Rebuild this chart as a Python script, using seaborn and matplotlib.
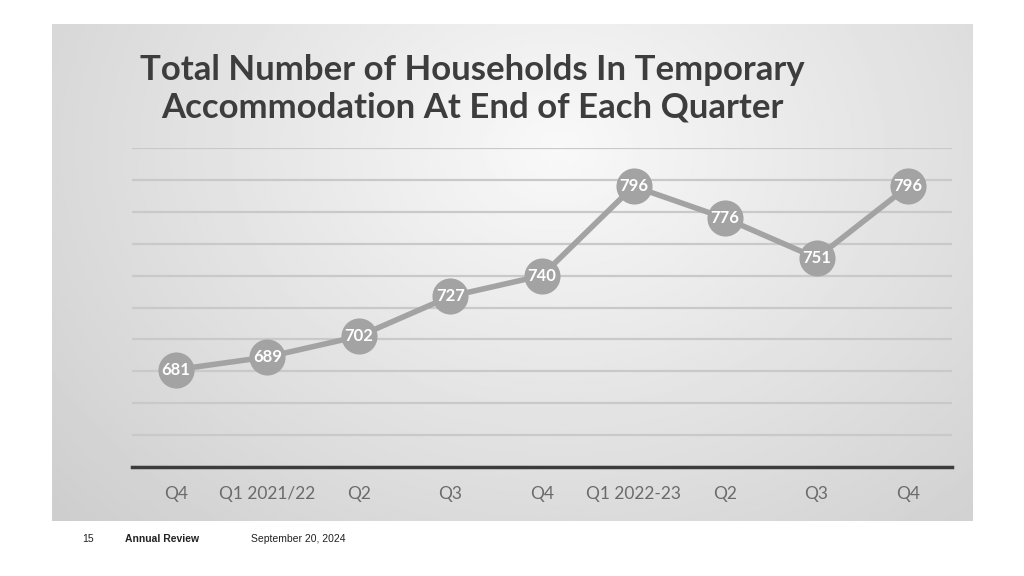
import numpy as np
import pandas as pd
import matplotlib
matplotlib.use("Agg")
import matplotlib.pyplot as plt
import seaborn as sns

quarters = ["Q4", "Q1 2021/22", "Q2", "Q3", "Q4", "Q1 2022-23", "Q2", "Q3", "Q4"]
households = [681, 689, 702, 727, 740, 796, 776, 751, 796]

sns.set_theme(style="white")
plt.rcParams["font.family"] = ["Lato", "DejaVu Sans"]

fig = plt.figure(figsize=(10.24, 5.76), dpi=100)
fig.patch.set_facecolor("white")

# grey slide panel with a soft radial gradient
bg = fig.add_axes([52 / 1024, 1 - 521 / 576, 921 / 1024, 497 / 576])
yy, xx = np.mgrid[0:1:200j, 0:1:300j]
r = np.sqrt(((xx - 0.55) / 0.75) ** 2 + ((yy - 0.25) / 1.1) ** 2)
shade = 0.975 - 0.17 * np.clip(r, 0, 1.1)
bg.imshow(shade, cmap="gray", vmin=0, vmax=1, aspect="auto", extent=[0, 1, 1, 0])
bg.set_axis_off()

ax = fig.add_axes([132 / 1024, 1 - 467 / 576, 820 / 1024, (467 - 148) / 576])
ax.patch.set_alpha(0)

df = pd.DataFrame({"pos": range(len(quarters)), "value": households})
sns.lineplot(data=df, x="pos", y="value", ax=ax, color="#a3a3a3", linewidth=4,
             marker="o", markersize=26, markeredgewidth=0, zorder=3)
for i, v in enumerate(households):
    ax.text(i, v, str(v), ha="center", va="center", color="white",
            fontsize=12, fontweight="bold", zorder=4)

ax.set_ylim(620, 820)
ax.set_xlim(-0.48, len(quarters) - 0.52)
ax.set_yticks(range(620, 821, 20))
ax.yaxis.grid(True, color="#c9c9c9", linewidth=1.6)
ax.set_axisbelow(True)
ax.set_yticklabels([])
ax.tick_params(axis="y", length=0)
ax.set_xticks(range(len(quarters)))
ax.set_xticklabels(quarters, color="#6b6b6b", fontsize=12.5)
ax.tick_params(axis="x", length=0, pad=14)
ax.set_xlabel("")
ax.set_ylabel("")
for s in ["top", "left", "right"]:
    ax.spines[s].set_visible(False)
ax.spines["bottom"].set_color("#3c3c3c")
ax.spines["bottom"].set_linewidth(2.5)

fig.text(472 / 1024, 1 - 89 / 576, "Total Number of Households In Temporary\nAccommodation At End of Each Quarter",
         ha="center", va="center", fontsize=25, fontweight="bold", color="#3d3d3d",
         linespacing=1.22)

foot = dict(fontsize=7.5, color="#222222", va="center", family=["Liberation Sans", "DejaVu Sans"])
fig.text(82 / 1024, 1 - 539 / 576, "15", **foot)
fig.text(125 / 1024, 1 - 539 / 576, "Annual Review", fontweight="bold", **foot)
fig.text(251 / 1024, 1 - 539 / 576, "September 20, 2024", **foot)

fig.savefig("out.png", dpi=100)
